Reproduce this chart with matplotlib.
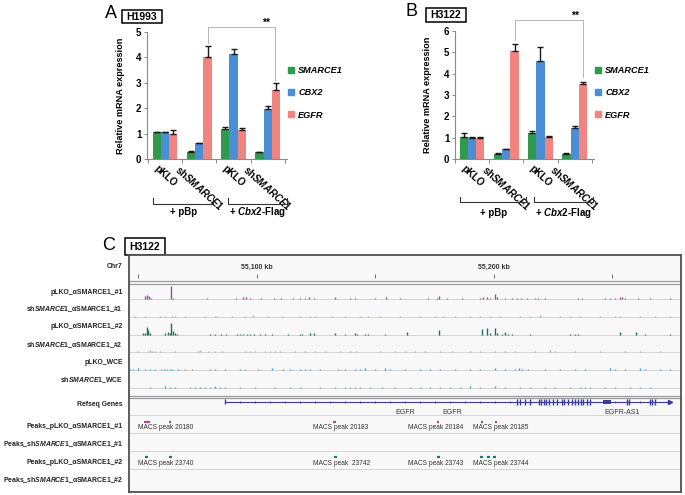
import numpy as np
import matplotlib
matplotlib.use('Agg')
import matplotlib.pyplot as plt
from matplotlib.lines import Line2D
from matplotlib.patches import Rectangle

plt.rcParams['font.family'] = ['Liberation Sans', 'DejaVu Sans']
plt.rcParams['mathtext.fontset'] = 'custom'
plt.rcParams['mathtext.rm'] = 'Liberation Sans:bold'
plt.rcParams['mathtext.it'] = 'Liberation Sans:italic:bold'
plt.rcParams['mathtext.bf'] = 'Liberation Sans:bold'

W, H = 685, 495

# ---------------- qPCR data (panels A and B) ----------------
conditions = ['pKLO', r'sh$\mathit{SMARCE1}$', 'pKLO', r'sh$\mathit{SMARCE1}$']
genes = ['SMARCE1', 'CBX2', 'EGFR']
gene_colors = ['#2f9a4c', '#4a8ed6', '#f2837f']

# rows: SMARCE1, CBX2, EGFR
h1993_mean = [[1.05, 0.28, 1.18, 0.26],
              [1.05, 0.62, 4.15, 1.96],
              [1.00, 4.02, 1.14, 2.71]]
h1993_err = [[0.02, 0.02, 0.08, 0.02],
             [0.02, 0.02, 0.18, 0.14],
             [0.13, 0.42, 0.10, 0.30]]
h3122_mean = [[1.01, 0.23, 1.23, 0.25],
              [1.00, 0.45, 4.60, 1.43],
              [1.00, 5.05, 1.04, 3.50]]
h3122_err = [[0.20, 0.03, 0.08, 0.02],
             [0.02, 0.03, 0.65, 0.13],
             [0.02, 0.33, 0.04, 0.12]]

# ---------------- ChIP-seq browser data (panel C) ----------------
# positions are kb past chr7:55,000 kb, heights are relative track units
ruler_ticks = [50, 100, 150, 200, 250]
ruler_labels = {100: '55,100 kb', 200: '55,200 kb'}

plko1_pos = [52.7, 53.6, 54.4, 55.3, 63.7, 64.6, 78.9, 91.1, 94.1, 95.4, 97.0, 101.7, 107.2,
             110.1, 115.2, 118.1, 120.3, 121.9, 124.1, 132.9, 139.2, 141.4, 149.8, 154.4,
             160.3, 172.2, 176.0, 176.8, 180.2, 186.5, 194.1, 195.4, 197.1, 198.3, 200.4,
             201.3, 204.7, 207.6, 209.7, 211.4, 213.9, 217.3, 218.6, 221.5, 235.5, 237.2,
             246.9, 249.0, 251.1, 253.2, 254.0, 255.3, 260.8, 265.8, 274.3]
plko1_h = [3, 4, 3, 1, 13, 1, 1, 1, 2, 2, 1, 1, 1,
           1, 1, 1, 1, 2, 1, 2, 1, 1, 1, 2,
           1, 1, 1, 3, 1, 1, 1, 2, 2, 1, 5,
           2, 1, 1, 1, 1, 1, 1, 1, 1, 1, 1,
           1, 1, 1, 2, 2, 1, 1, 1, 1]

sh1_pos = [48.5, 52.7, 59.1, 61.2, 64.1, 65.4, 69.6, 78.1, 82.3, 83.1, 89.5, 94.9, 98.3,
           104.6, 110.6, 118.1, 122.4, 124.5, 131.7, 137.1, 143.5, 146.8, 151.9, 160.3,
           168.8, 175.1, 178.5, 183.6, 189.9, 194.1, 198.3, 202.5, 211.0, 215.2, 219.4,
           227.9, 232.1, 236.3, 244.7, 251.1, 253.2, 261.6, 268.0, 274.3]
sh1_h = [1, 1, 1, 1, 1, 1, 1, 1, 1, 1, 1, 1, 2,
         1, 1, 1, 1, 1, 1, 1, 1, 1, 1, 1,
         1, 1, 1, 1, 1, 1, 1, 1, 1, 1, 2,
         1, 1, 1, 1, 1, 1, 1, 1, 1]

plko2_pos = [51.9, 52.7, 53.4, 54.0, 54.8, 61.2, 62.4, 63.3, 63.9, 64.6, 65.4, 66.2, 80.2,
             82.3, 84.8, 86.9, 91.6, 92.8, 94.1, 95.8, 97.0, 98.7, 101.3, 103.4, 106.3,
             113.1, 118.1, 119.0, 122.4, 124.1, 132.9, 137.1, 141.4, 142.2, 145.6, 146.8,
             154.0, 163.3, 176.8, 195.0, 197.1, 198.3, 200.4, 201.3, 203.4, 204.7, 205.9,
             207.6, 215.2, 232.1, 234.2, 235.5, 253.2, 259.9, 263.7, 274.3]
plko2_h = [2, 2, 8, 5, 2, 2, 3, 2, 12, 4, 2, 1, 1,
           1, 1, 1, 1, 1, 1, 1, 1, 1, 1, 1, 1,
           1, 1, 1, 2, 2, 2, 1, 2, 1, 1, 1,
           1, 3, 5, 6, 7, 2, 7, 2, 1, 3, 1,
           1, 1, 1, 1, 1, 3, 3, 1, 1]

sh2_pos = [49.8, 54.0, 54.8, 55.7, 57.0, 59.1, 65.4, 75.1, 75.9, 79.3, 82.3, 85.2, 94.9,
           97.0, 99.2, 103.4, 105.5, 107.6, 109.7, 116.0, 120.3, 124.5, 128.7, 135.0,
           139.2, 141.8, 151.9, 158.2, 162.5, 166.7, 170.9, 177.2, 182.3, 189.9, 194.1,
           200.4, 204.7, 208.9, 217.3, 223.6, 225.8, 234.2, 244.7, 255.3, 261.6, 270.1]
sh2_h = [1, 1, 2, 1, 1, 1, 1, 1, 2, 1, 1, 1, 1,
         1, 1, 1, 1, 1, 1, 1, 1, 1, 1, 1,
         1, 1, 1, 1, 1, 1, 1, 1, 1, 1, 1,
         1, 1, 1, 1, 2, 1, 1, 1, 1, 1, 1]

wce_plko_pos = [46.4, 47.7, 49.8, 52.7, 54.8, 57.0, 59.5, 60.8, 62.0, 63.3, 64.1, 66.7, 69.6,
                72.6, 80.2, 82.3, 86.5, 92.8, 94.9, 100.4, 106.3, 111.0, 113.9, 118.1, 120.3,
                122.4, 126.6, 134.2, 137.1, 141.4, 143.5, 145.6, 149.8, 154.0, 156.1, 162.5,
                168.8, 173.0, 177.2, 183.6, 189.9, 194.1, 200.4, 204.7, 208.9, 210.6, 211.8,
                214.4, 221.5, 227.9, 234.2, 238.4, 249.0, 251.1, 255.3, 261.6, 263.7, 270.1,
                274.3]
wce_plko_h = [1, 1, 2, 1, 1, 1, 1, 1, 1, 1, 1, 1, 1,
              1, 1, 1, 1, 1, 1, 1, 2, 1, 1, 1, 1,
              1, 1, 1, 1, 1, 1, 2, 1, 2, 1, 1,
              1, 1, 1, 1, 1, 1, 2, 1, 1, 2, 1,
              1, 1, 1, 1, 1, 2, 1, 1, 2, 1, 1,
              1]

wce_sh_pos = [54.8, 61.2, 63.3, 65.4, 71.7, 73.8, 75.9, 78.1, 80.2, 82.3, 84.4, 86.5, 92.8,
              99.2, 107.6, 113.9, 118.1, 126.6, 132.9, 137.1, 139.2, 141.4, 143.5, 147.7,
              152.8, 158.2, 164.6, 168.8, 173.0, 177.2, 181.4, 185.7, 189.9, 194.1, 200.4,
              204.7, 211.0, 215.2, 221.5, 225.8, 232.1, 236.3, 238.4, 240.5, 246.9, 251.1,
              257.4, 261.6, 265.8]
wce_sh_h = [1, 2, 1, 1, 1, 1, 1, 1, 1, 2, 1, 1, 1,
            1, 1, 1, 1, 1, 1, 1, 1, 1, 1, 1,
            1, 1, 1, 1, 1, 1, 1, 1, 2, 1, 2,
            1, 1, 1, 1, 1, 1, 1, 1, 1, 1, 1,
            1, 1, 1]

signal_tracks = [
    ('pLKO_αSMARCE1_#1', plko1_pos, plko1_h, '#9b4c97'),
    (r'sh$\mathit{SMARCE1}$_αSMARCE1_#1', sh1_pos, sh1_h, '#b9a2c9'),
    ('pLKO_αSMARCE1_#2', plko2_pos, plko2_h, '#1e6f60'),
    (r'sh$\mathit{SMARCE1}$_αSMARCE1_#2', sh2_pos, sh2_h, '#94c285'),
    ('pLKO_WCE', wce_plko_pos, wce_plko_h, '#3f9bd3'),
    (r'sh$\mathit{SMARCE1}$_WCE', wce_sh_pos, wce_sh_h, '#48a7bb'),
]

gene_span = (86.5, 274.3)
gene_exons = [209.7, 211.0, 213.0, 215.2, 219.0, 219.8, 221.1, 221.9, 223.2, 224.9, 226.6,
              228.7, 229.5, 231.2, 232.9, 234.2, 235.5, 236.7, 237.6, 239.3, 240.5, 256.1,
              256.9, 265.8, 266.7, 268.0]
gene_utr = (246.0, 249.4)
gene_strand_ticks = [92.8, 99.2, 105.5, 111.8, 118.1, 124.5, 130.8, 137.1, 143.5, 149.8, 156.1,
                     162.5, 168.8, 175.1, 181.4, 187.8, 194.1, 200.4, 206.8, 251.1, 261.6]
gene_names = ['EGFR', 'EGFR', 'EGFR-AS1']
gene_name_pos = [162.5, 182.3, 254.0]

peaks1_pos = [53.0, 54.4, 63.3, 132.9, 176.4, 195.0, 200.9]
peaks1_names = ['MACS peak 20180', 'MACS peak 20183', 'MACS peak 20184', 'MACS peak 20185']
peaks1_name_pos = [49.8, 123.6, 163.7, 191.2]
peaks2_pos = [53.3, 63.6, 133.0, 176.5, 194.9, 197.6, 200.4]
peaks2_names = ['MACS peak 23740', 'MACS peak  23742', 'MACS peak 23743', 'MACS peak 23744']
peaks2_name_pos = [49.8, 123.6, 163.7, 191.2]


def px_rect(x0, y0, x1, y1):
    return [x0 / W, 1 - y1 / H, (x1 - x0) / W, (y1 - y0) / H]


fig = plt.figure(figsize=(W / 100, H / 100), dpi=100)

# overlay in pixel coordinates for panel letters, boxes and row labels
ov = fig.add_axes([0, 0, 1, 1])
ov.set_xlim(0, W)
ov.set_ylim(H, 0)
ov.axis('off')


def cell_tag(letter, lxy, name, box):
    ov.text(lxy[0], lxy[1], letter, fontsize=13, ha='center', va='center')
    x0, y0, x1, y1 = box
    ov.add_patch(Rectangle((x0, y0), x1 - x0, y1 - y0, fill=False, lw=1.1, ec='black'))
    ov.text((x0 + x1) / 2, (y0 + y1) / 2 + 0.5, name, fontsize=7.5, fontweight='bold',
            ha='center', va='center')


def qpcr_panel(rect, xlim, ymax, means, errs, sig, stars, brackets, legend_x, ylab_x):
    ax = fig.add_axes(rect)
    x = np.arange(len(conditions))
    w = 0.24
    for i, gene in enumerate(genes):
        ax.bar(x + (i - 1) * w, means[i], w, color=gene_colors[i],
               yerr=[np.zeros(len(x)), errs[i]],
               error_kw=dict(ecolor='#1a1a1a', elinewidth=1.0, capsize=2.5, capthick=1.0))
    ax.set_xlim(*xlim)
    ax.set_ylim(0, ymax)
    for s in ['top', 'right']:
        ax.spines[s].set_visible(False)
    for s in ['left', 'bottom']:
        ax.spines[s].set_color('#8a8a8a')
        ax.spines[s].set_linewidth(0.8)
    ax.set_yticks(range(ymax + 1))
    ax.tick_params(axis='y', direction='out', length=2, width=0.7, color='#8a8a8a',
                   labelsize=7, pad=2)
    for lbl in ax.get_yticklabels():
        lbl.set_fontweight('bold')
    ax.set_xticks(x)
    ax.set_xticklabels(conditions, rotation=-42, ha='center', va='top', fontsize=7,
                       fontweight='bold')
    ax.tick_params(axis='x', which='major', length=0, pad=3)
    ax.set_xticks(np.arange(len(x) + 1) - 0.5, minor=True)
    ax.tick_params(axis='x', which='minor', direction='out', length=3, width=0.7,
                   color='#8a8a8a')
    ax.set_ylabel('Relative mRNA expression', fontsize=6.6, fontweight='bold')
    ax.yaxis.set_label_coords(ylab_x, 0.5)

    # significance bracket
    xl, xr, yt, ybl, ybr = sig
    ax.plot([xl, xl, xr, xr], [ybl, yt, yt, ybr], color='#b5b5b5', lw=0.7, clip_on=False)
    ax.text(stars[0], stars[1], '**', fontsize=7.5, fontweight='bold', ha='center',
            va='center', clip_on=False)

    # treatment brackets under the categories
    tr = ax.get_xaxis_transform()
    for (b0, b1, yh, ye, ylab, label) in brackets:
        ax.plot([b0, b0, b1, b1], [ye, yh, yh, ye], color='#333333', lw=0.8,
                transform=tr, clip_on=False)
        ax.text((b0 + b1) / 2, ylab, label, transform=tr, fontsize=7, fontweight='bold',
                ha='center', va='center')

    handles = [Line2D([], [], marker='s', linestyle='', color=c, markersize=4)
               for c in gene_colors]
    fig.legend(handles, genes, loc='upper left', bbox_to_anchor=(legend_x / W, 1 - 66 / H),
               bbox_transform=fig.transFigure, frameon=False,
               prop=dict(size=6.6, weight='bold', style='italic'),
               handlelength=0.7, handletextpad=0.4, labelspacing=1.45, borderpad=0,
               borderaxespad=0)
    return ax


# Panel A: H1993
cell_tag('A', (111, 13), 'H1993', (122, 10, 162, 23))
qpcr_panel(px_rect(147, 32, 286.5, 159), (-0.53, 3.55), 5, h1993_mean, h1993_err,
           (1.24, 3.22, 5.2, 4.57, 3.11), (2.95, 5.37),
           [(-0.35, 1.40, -0.354, -0.307, -0.417, '+ pBp'),
            (1.84, 3.57, -0.354, -0.307, -0.417, r'+ $\mathit{Cbx2}$-Flag')],
           288, -0.158)

# Panel B: H3122
cell_tag('B', (412, 11), 'H3122', (426, 8, 466, 22))
qpcr_panel(px_rect(455, 31, 593.5, 159), (-0.43, 3.55), 6, h3122_mean, h3122_err,
           (1.24, 3.24, 6.52, 5.58, 3.85), (3.02, 6.72),
           [(-0.34, 1.58, -0.336, -0.297, -0.42, '+ pBp'),
            (1.81, 3.53, -0.336, -0.297, -0.42, r'+ $\mathit{Cbx2}$-Flag')],
           595, -0.166)

# Panel C: genome browser view
cell_tag('C', (109, 246), 'H3122', (125, 238, 165, 255))

bax = fig.add_axes(px_rect(129, 255, 681, 492))
bax.set_xlim(46, 279)
bax.set_ylim(492, 255)
bax.set_facecolor('#f8f8f8')
bax.set_xticks([])
bax.set_yticks([])
for s in bax.spines.values():
    s.set_color('#505050')
    s.set_linewidth(1.3)

label_kw = dict(fontsize=4.95, fontweight='bold', ha='right', va='center', color='#222222')

# ruler
ov.text(123, 267, 'Chr7', **label_kw)
bax.vlines(ruler_ticks, 273.5, 277.5, color='#555555', lw=0.6)
for pos, txt in ruler_labels.items():
    bax.text(pos, 267, txt, fontsize=5, fontweight='bold', ha='center', va='center',
             color='#333333')
bax.hlines([281, 283.5], 46, 279, color='#9a9a9a', lw=0.9)

# signal tracks
baselines = [299, 316.5, 334.5, 352, 370, 388]
label_y = [292, 309.5, 327, 345, 362, 380]
for (name, pos, hts, col), base, ly in zip(signal_tracks, baselines, label_y):
    bax.hlines(base, 46, 279, color='#cfcfcf', lw=0.6)
    bax.vlines(pos, base, base - np.array(hts), color=col, lw=1.0)
    ov.text(123, ly, name, **label_kw)

bax.hlines([396, 398.5], 46, 279, color='#9a9a9a', lw=0.9)

# refseq genes
gy = 402
ov.text(123, 405, 'Refseq Genes', **label_kw)
gene_col = '#3a3a98'
bax.hlines(gy, *gene_span, color=gene_col, lw=0.8)
bax.vlines(gene_span[0], gy - 2.5, gy + 2.5, color=gene_col, lw=1.0)
bax.plot(gene_strand_ticks, [gy] * len(gene_strand_ticks), linestyle='', marker='|',
         markersize=2, color=gene_col, mew=0.6)
bax.vlines(gene_exons, gy - 3, gy + 3, color=gene_col, lw=1.0)
bax.add_patch(Rectangle((gene_utr[0], gy - 1.8), gene_utr[1] - gene_utr[0], 3.6,
                        color=gene_col, lw=0))
bax.plot([gene_span[1]], [gy], marker='>', markersize=3, color=gene_col)
for name, pos in zip(gene_names, gene_name_pos):
    bax.text(pos, 412.5, name, fontsize=5, ha='center', va='center', color='#333333')

bax.hlines([415, 433, 451, 469], 46, 279, color='#d0d0d0', lw=0.6)

# peak tracks
peak_rows = [
    ('Peaks_pLKO_αSMARCE1_#1', 427, peaks1_pos, 422, peaks1_names, peaks1_name_pos, 428, '#a04a9b'),
    (r'Peaks_sh$\mathit{SMARCE1}$_αSMARCE1_#1', 444, [], 0, [], [], 0, '#a04a9b'),
    ('Peaks_pLKO_αSMARCE1_#2', 463, peaks2_pos, 457, peaks2_names, peaks2_name_pos, 464, '#1f7a6b'),
    (r'Peaks_sh$\mathit{SMARCE1}$_αSMARCE1_#2', 480, [], 0, [], [], 0, '#1f7a6b'),
]
for name, ly, pos, my, names, npos, ny, col in peak_rows:
    ov.text(123, ly, name, **label_kw)
    if pos:
        pos = np.array(pos)
        bax.hlines([my] * len(pos), pos - 0.6, pos + 0.6, color=col, lw=1.6)
    for txt, p in zip(names, npos):
        bax.text(p, ny, txt, fontsize=4.8, ha='left', va='center', color='#333333')

fig.savefig('out.png', dpi=100)
